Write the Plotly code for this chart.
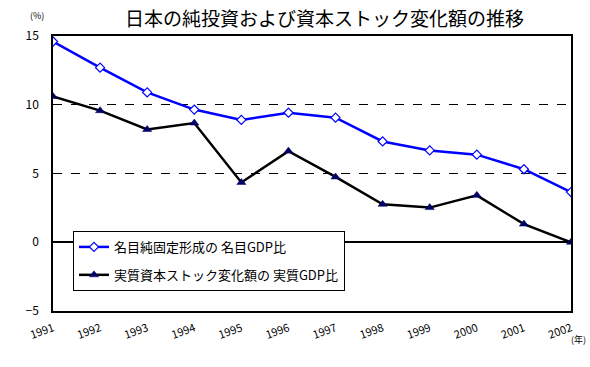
import plotly.graph_objects as go

years = [1991, 1992, 1993, 1994, 1995, 1996, 1997, 1998, 1999, 2000, 2001, 2002]
year_labels = [str(y) for y in years]
nominal = [14.6, 12.7, 10.9, 9.65, 8.9, 9.42, 9.06, 7.33, 6.68, 6.37, 5.31, 3.65]
real = [10.6, 9.57, 8.2, 8.67, 4.35, 6.63, 4.75, 2.76, 2.52, 3.41, 1.32, 0.0]
name_nominal = "名目純固定形成の 名目GDP比"
name_real = "実質資本ストック変化額の 実質GDP比"
title = "日本の純投資および資本ストック変化額の推移"

FONT = "Noto Sans CJK JP"

fig = go.Figure()
fig.add_trace(go.Scatter(
    x=years, y=nominal, name=name_nominal, mode="lines+markers",
    line=dict(color="#0000FF", width=2.5),
    marker=dict(symbol="diamond", size=7, color="white",
                line=dict(color="#0000FF", width=1.2)),
    legendgroup="a",
))
fig.add_trace(go.Scatter(
    x=years, y=real, name=name_real, mode="lines+markers",
    line=dict(color="black", width=2.5),
    marker=dict(symbol="triangle-up", size=8, color="#000066",
                line=dict(color="#000066", width=0.5)),
    legendgroup="b",
))

fig.update_layout(
    width=590, height=367,
    margin=dict(l=53, r=19, t=36, b=56, autoexpand=False),
    paper_bgcolor="white", plot_bgcolor="white",
    font=dict(family=FONT, color="black"),
    showlegend=True,
    legend=dict(
        x=0.0386, y=0.291, xanchor="left", yanchor="top",
        bgcolor="white", bordercolor="black", borderwidth=1,
        font=dict(size=13, family=FONT, color="black"),
        traceorder="grouped", tracegroupgap=8, itemwidth=30,
    ),
    xaxis=dict(
        range=[1991, 2002], tickmode="array", tickvals=years, ticktext=year_labels,
        tickangle=-20, tickfont=dict(size=11, family=FONT),
        showgrid=False, zeroline=False, automargin=False,
        showline=True, linecolor="black", linewidth=1.5, mirror=True,
        ticks="", ticklabelstandoff=5,
    ),
    yaxis=dict(
        range=[-5, 15], tickvals=[-5, 0, 5, 10, 15],
        tickfont=dict(size=12, family=FONT), automargin=False,
        showgrid=True, gridcolor="black", griddash="dash", gridwidth=1,
        zeroline=True, zerolinecolor="black", zerolinewidth=1.5,
        showline=True, linecolor="black", linewidth=1.5, mirror=True,
        ticks="", ticklabelstandoff=10,
    ),
    annotations=[
        dict(text=title, xref="paper", yref="paper",
             x=(324 - 53) / 518, y=1 + (36 - 17) / 275,
             xanchor="center", yanchor="middle", showarrow=False,
             font=dict(size=19, family=FONT)),
        dict(text="(%)", xref="paper", yref="paper",
             x=(37 - 53) / 518, y=1 + (36 - 16) / 275,
             xanchor="center", yanchor="middle", showarrow=False,
             font=dict(size=9, family=FONT)),
        dict(text="(年)", xref="paper", yref="paper",
             x=(578 - 53) / 518, y=-(339 - 311) / 275,
             xanchor="center", yanchor="middle", showarrow=False,
             font=dict(size=9, family=FONT)),
    ],
)

fig.write_html("out.html", config={"displayModeBar": False},
               post_script="document.body.style.margin='0px';")
